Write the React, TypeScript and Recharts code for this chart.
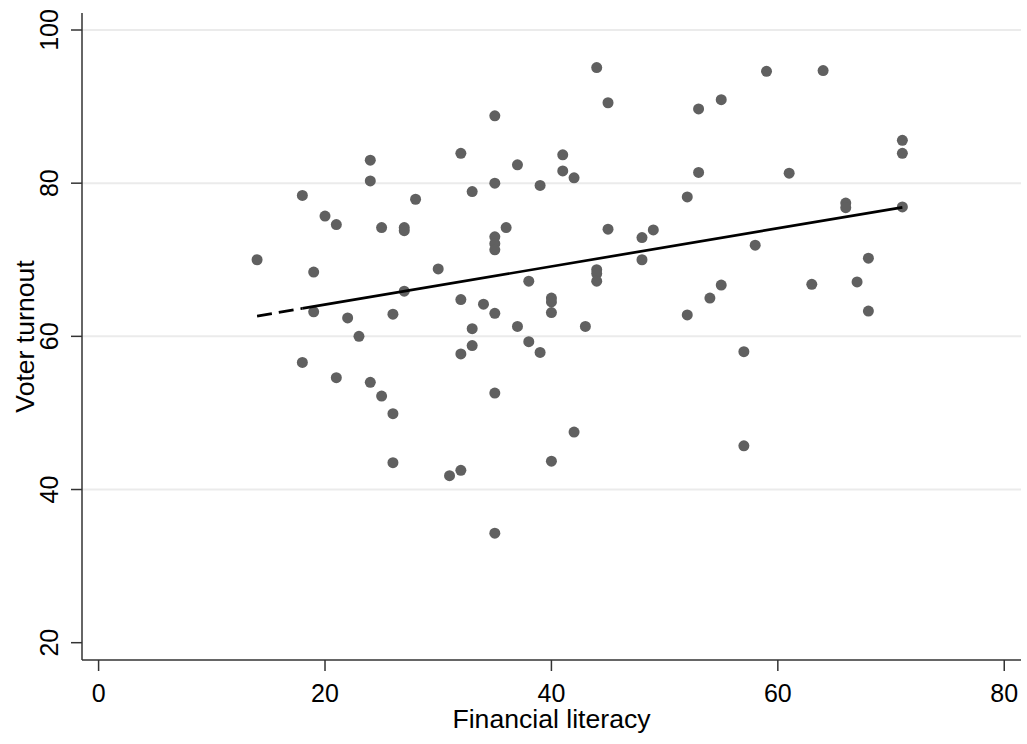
import { ScatterChart, Scatter, XAxis, YAxis, ReferenceLine, Label } from 'recharts';

// financial literacy score and voter turnout, one entry per unit
const literacy = [
  14, 18, 18, 19, 19, 20, 21, 21, 22, 23, 24, 24, 24, 25, 25, 26, 26, 26, 27, 27, 27, 28,
  30, 31, 32, 32, 32, 32, 33, 33, 33, 34, 35, 35, 35, 35, 35, 35, 35, 35, 36, 37, 37, 38,
  38, 39, 39, 40, 40, 40, 40, 41, 41, 42, 42, 43, 44, 44, 44, 44, 45, 45, 48, 48, 49, 52,
  52, 53, 53, 54, 55, 55, 57, 57, 58, 59, 61, 63, 64, 66, 66, 67, 68, 68, 71, 71, 71,
];
const turnout = [
  70.0, 78.4, 56.6, 68.4, 63.2, 75.7, 74.6, 54.6, 62.4, 60.0, 83.0, 80.3, 54.0, 74.2, 52.2,
  62.9, 49.9, 43.5, 74.2, 73.8, 65.9, 77.9, 68.8, 41.8, 83.9, 64.8, 57.7, 42.5, 78.9, 61.0,
  58.8, 64.2, 88.8, 80.0, 73.0, 72.1, 71.3, 63.0, 52.6, 34.3, 74.2, 82.4, 61.3, 67.2, 59.3,
  79.7, 57.9, 65.0, 64.5, 63.1, 43.7, 83.7, 81.6, 80.7, 47.5, 61.3, 95.1, 68.7, 68.2, 67.2,
  90.5, 74.0, 72.9, 70.0, 73.9, 78.2, 62.8, 89.7, 81.4, 65.0, 90.9, 66.7, 58.0, 45.7, 71.9,
  94.6, 81.3, 66.8, 94.7, 77.4, 76.8, 67.1, 70.2, 63.3, 85.6, 83.9, 76.9,
];

// fitted line: dashed for the first stretch, solid after
const fitX = [14, 18, 71];
const fitY = [62.65, 63.65, 76.85];

const xTicks = [0, 20, 40, 60, 80];
const yTicks = [20, 40, 60, 80, 100];
const gridValues = [40, 60, 80, 100];

const points = literacy.map((x, i) => ({ x, y: turnout[i] }));
const fitDashed = [0, 1].map((i) => ({ x: fitX[i], y: fitY[i] }));
const fitSolid = [1, 2].map((i) => ({ x: fitX[i], y: fitY[i] }));

const font = '"Liberation Sans", Arial, sans-serif';

const Dot = (props: any) => <circle cx={props.cx} cy={props.cy} r={5.5} fill='#606060' />;
const NoDot = () => <g />;

const YTick = ({ x, y, payload }: any) => (
  <text
    x={x}
    y={y}
    transform={`rotate(-90 ${x} ${y})`}
    textAnchor='middle'
    fontSize={25}
    fontFamily={font}
    fill='#000'
  >
    {payload.value}
  </text>
);

const App = () => {
  return (
    <div style={{ position: 'absolute', left: 0, top: 0, background: '#fff' }}>
      <ScatterChart width={1027} height={744} margin={{ top: 13, right: 6, left: 0, bottom: 0 }}>
        {gridValues.map((v) => (
          <ReferenceLine key={v} y={v} stroke='#ebebeb' strokeWidth={2} />
        ))}
        <XAxis
          type='number'
          dataKey='x'
          domain={[-1.466, 81.48]}
          ticks={xTicks}
          allowDataOverflow
          height={84}
          tickSize={11}
          tickMargin={13}
          stroke='#333'
          strokeWidth={1.5}
          tick={{ fontSize: 25, fill: '#000', fontFamily: font }}
        >
          <Label
            content={({ viewBox }: any) => (
              <text
                x={viewBox.x + viewBox.width / 2}
                y={viewBox.y + 68}
                textAnchor='middle'
                fontSize={26.6}
                fontFamily={font}
                fill='#000'
              >
                Financial literacy
              </text>
            )}
          />
        </XAxis>
        <YAxis
          type='number'
          dataKey='y'
          domain={[17.74, 102.22]}
          ticks={yTicks}
          allowDataOverflow
          width={82}
          tickSize={11}
          tickMargin={13}
          stroke='#333'
          strokeWidth={1.5}
          tick={<YTick />}
        >
          <Label
            content={({ viewBox }: any) => {
              const lx = viewBox.x + 34;
              const ly = viewBox.y + viewBox.height / 2;
              return (
                <text
                  x={lx}
                  y={ly}
                  transform={`rotate(-90 ${lx} ${ly})`}
                  textAnchor='middle'
                  fontSize={26.6}
                  fontFamily={font}
                  fill='#000'
                >
                  Voter turnout
                </text>
              );
            }}
          />
        </YAxis>
        <Scatter data={points} shape={<Dot />} isAnimationActive={false} />
        <Scatter
          data={fitDashed}
          shape={<NoDot />}
          line={{ stroke: '#000', strokeWidth: 2.7, strokeDasharray: '15 7' }}
          isAnimationActive={false}
        />
        <Scatter
          data={fitSolid}
          shape={<NoDot />}
          line={{ stroke: '#000', strokeWidth: 2.7 }}
          isAnimationActive={false}
        />
      </ScatterChart>
    </div>
  );
};

export default App;
